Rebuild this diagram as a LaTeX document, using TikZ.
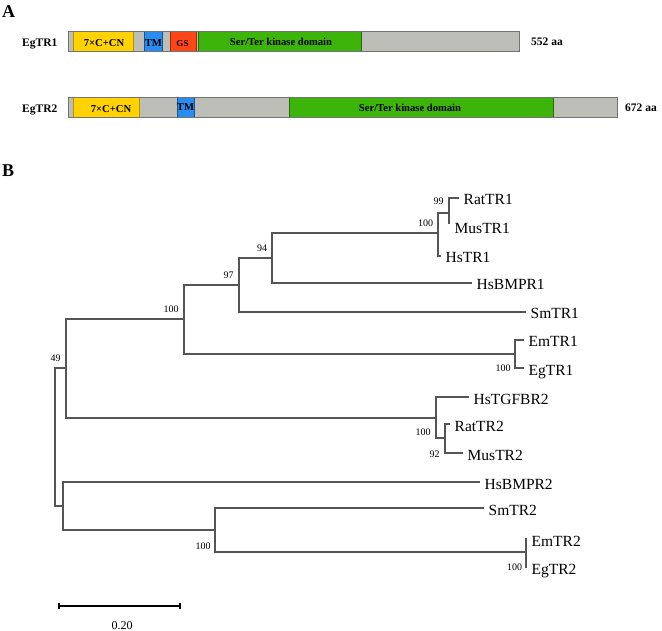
\documentclass[tikz,border=0pt]{standalone}
\usepackage{fontspec}
\setmainfont{Liberation Serif}
\definecolor{dgray}{RGB}{190,190,185}
\definecolor{dyellow}{RGB}{255,210,0}
\definecolor{dblue}{RGB}{40,140,240}
\definecolor{dred}{RGB}{255,70,20}
\definecolor{dgreen}{RGB}{60,180,10}
\definecolor{treecol}{RGB}{85,85,85}
\begin{document}
\begin{tikzpicture}[x=1pt,y=-1pt,
  tree/.style={draw=treecol,line width=1.2pt},
  leaf/.style={anchor=base west,inner sep=0pt,xshift=4.5pt,yshift=-7pt,font=\fontsize{15.5}{18}\selectfont},
  boot/.style={anchor=base,inner sep=0pt,font=\fontsize{10}{12}\selectfont},
  panel/.style={anchor=base west,inner sep=0pt,font=\fontsize{18}{20}\selectfont\bfseries},
  protname/.style={anchor=base west,inner sep=0pt,font=\fontsize{11.5}{13}\selectfont\bfseries},
  domtxt/.style={anchor=base,inner sep=0pt,font=\fontsize{10.6}{12}\selectfont\bfseries},
  bar/.style={fill=dgray,draw=gray!90!black,line width=0.8pt},
  dom/.style={line width=0.6pt}
]
\useasboundingbox (0,0) rectangle (662,631);

% ---------- Panel A ----------
\node[panel] (pA) at (2,17.5) {A};
\node[protname] (n1) at (22,46.5) {EgTR1};
\filldraw[bar] (68,31) rectangle (519,51);
\filldraw[dom,fill=dyellow,draw=dyellow!70!black] (73,31) rectangle (133,51);
\filldraw[dom,fill=dblue,draw=dblue!60!black] (144,31) rectangle (162,51);
\filldraw[dom,fill=dred,draw=dred!60!black] (170,31) rectangle (196,51);
\filldraw[dom,fill=dgreen,draw=dgreen!60!black] (198,31) rectangle (361,51);
\draw[gray!90!black,line width=0.8pt] (68,31) rectangle (519,51);
\node[domtxt] (d11) at (104,47) {7×C+CN};
\node[domtxt] (d12) at (153.3,46.7) {TM};
\node[domtxt,font=\fontsize{9}{10}\selectfont\bfseries] (d13) at (182.5,46.7) {GS};
\node[domtxt] (d14) at (281,45.5) {Ser/Ter kinase domain};
\node[protname] (len1) at (531,46) {552 aa};

\node[protname] (n2) at (22,112.5) {EgTR2};
\filldraw[bar] (68,97) rectangle (617,117);
\filldraw[dom,fill=dyellow,draw=dyellow!70!black] (73,97) rectangle (139,117);
\filldraw[dom,fill=dblue,draw=dblue!60!black] (177,97) rectangle (194,117);
\filldraw[dom,fill=dgreen,draw=dgreen!60!black] (289,97) rectangle (553,117);
\draw[gray!90!black,line width=0.8pt] (68,97) rectangle (617,117);
\node[domtxt] (d21) at (111,113) {7×C+CN};
\node[domtxt] (d22) at (185.5,110.5) {TM};
\node[domtxt] (d24) at (410,111.5) {Ser/Ter kinase domain};
\node[protname] (len2) at (625,112) {672 aa};

% ---------- Panel B ----------
\node[panel] (pB) at (2,177) {B};

\coordinate (R) at (55,437);
\coordinate (U) at (66,368);
\coordinate (A1) at (184,319);
\coordinate (B97) at (239,285);
\coordinate (C94) at (272,258);
\coordinate (D) at (438,233);
\coordinate (F) at (449,213);
\coordinate (E1) at (515,354);
\coordinate (T2) at (436,418);
\coordinate (G) at (445,438);
\coordinate (L) at (63,506);
\coordinate (M) at (215,530);
\coordinate (N) at (526,552);

\coordinate (lRat1) at (459,198);
\coordinate (lMus1) at (450,223);
\coordinate (lHs1) at (441,256);
\coordinate (lBMPR1) at (472,283);
\coordinate (lSm1) at (526,312);
\coordinate (lEm1) at (524,340);
\coordinate (lEg1) at (524,368);
\coordinate (lTGF) at (469,397);
\coordinate (lRat2) at (450,424);
\coordinate (lMus2) at (463,453);
\coordinate (lBMPR2) at (480,482);
\coordinate (lSm2) at (484,508);
\coordinate (lEm2) at (527,539);
\coordinate (lEg2) at (527,567);

\draw[tree] (R) |- (U);
\draw[tree] (R) |- (L);
\draw[tree] (U) |- (A1);
\draw[tree] (U) |- (T2);
\draw[tree] (A1) |- (B97);
\draw[tree] (A1) |- (E1);
\draw[tree] (B97) |- (C94);
\draw[tree] (B97) |- (lSm1);
\draw[tree] (C94) |- (D);
\draw[tree] (C94) |- (lBMPR1);
\draw[tree] (D) |- (F);
\draw[tree] (D) |- (lHs1);
\draw[tree] (F) |- (lRat1);
\draw[tree] (F) |- (lMus1);
\draw[tree] (E1) |- (lEm1);
\draw[tree] (E1) |- (lEg1);
\draw[tree] (T2) |- (lTGF);
\draw[tree] (T2) |- (G);
\draw[tree] (G) |- (lRat2);
\draw[tree] (G) |- (lMus2);
\draw[tree] (L) |- (lBMPR2);
\draw[tree] (L) |- (M);
\draw[tree] (M) |- (lSm2);
\draw[tree] (M) |- (N);
\draw[tree] (N) |- (lEm2);
\draw[tree] (N) |- (lEg2);

\node[leaf] (tRat1) at (lRat1) {RatTR1};
\node[leaf,yshift=-4pt] (tMus1) at (lMus1) {MusTR1};
\node[leaf] (tHs1) at (lHs1) {HsTR1};
\node[leaf] (tBMPR1) at (lBMPR1) {HsBMPR1};
\node[leaf] (tSm1) at (lSm1) {SmTR1};
\node[leaf] (tEm1) at (lEm1) {EmTR1};
\node[leaf] (tEg1) at (lEg1) {EgTR1};
\node[leaf] (tTGF) at (lTGF) {HsTGFBR2};
\node[leaf] (tRat2) at (lRat2) {RatTR2};
\node[leaf] (tMus2) at (lMus2) {MusTR2};
\node[leaf] (tBMPR2) at (lBMPR2) {HsBMPR2};
\node[leaf] (tSm2) at (lSm2) {SmTR2};
\node[leaf] (tEm2) at (lEm2) {EmTR2};
\node[leaf] (tEg2) at (lEg2) {EgTR2};

\node[boot] (b99) at (438.5,205) {99};
\node[boot] (b100a) at (425.5,227) {100};
\node[boot] (b94) at (262,252) {94};
\node[boot] (b97) at (228.5,278.5) {97};
\node[boot] (b100b) at (171,312.5) {100};
\node[boot] (b49) at (55.5,361.5) {49};
\node[boot] (b100c) at (503,372) {100};
\node[boot] (b100d) at (423,435) {100};
\node[boot] (b92) at (434.5,457) {92};
\node[boot] (b100e) at (203,549) {100};
\node[boot] (b100f) at (514.5,570) {100};

% scale bar
\coordinate (s1) at (59,606);
\coordinate (s2) at (180,606);
\draw[line width=1.6pt] (s1) -- (s2);
\draw[line width=1.6pt] ([yshift=3pt]s1) -- ([yshift=-3pt]s1);
\draw[line width=1.6pt] ([yshift=3pt]s2) -- ([yshift=-3pt]s2);
\node[boot,font=\fontsize{12}{14}\selectfont] (sc) at (122,629.5) {0.20};
\end{tikzpicture}
\end{document}
